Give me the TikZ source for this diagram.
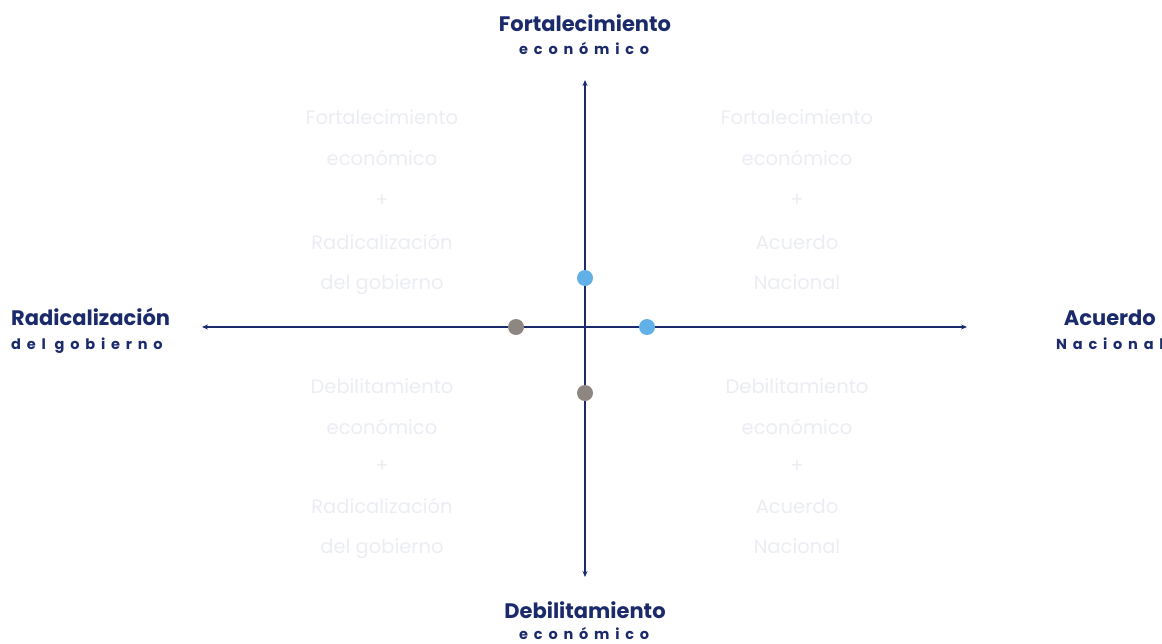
\documentclass[tikz,border=0pt]{standalone}
\usepackage{fontspec}
\setmainfont{Poppins}
\usetikzlibrary{arrows.meta}
\definecolor{navy}{HTML}{1B2A6B}
\definecolor{dotblue}{HTML}{62B0E8}
\definecolor{dotgray}{HTML}{8E8681}
\definecolor{faint}{HTML}{EBEDF3}
\newfontfamily\spaced{Poppins}[LetterSpace=40]
\begin{document}
\begin{tikzpicture}[x=1pt,y=-1pt,
  axis/.style={draw=navy,line width=1.3pt,-{Stealth[length=6pt,width=5pt]}},
  title/.style={text=navy,font=\fontsize{21}{23}\selectfont\bfseries,inner sep=0pt,anchor=base},
  sub/.style={text=navy,font=\fontsize{14.5}{16}\spaced\bfseries,inner sep=0pt,anchor=base},
  quad/.style={text=faint,font=\fontsize{19.5}{21}\selectfont,inner sep=0pt,anchor=base},
  dot/.style={circle,inner sep=0pt,minimum size=16pt}]
\useasboundingbox (0,0) rectangle (1162,643);
\coordinate (c) at (585,327);
\coordinate (top) at (585,80);
\coordinate (bot) at (585,577);
\coordinate (lft) at (202,327);
\coordinate (rgt) at (967,327);
\draw[axis] (c) -- (top);
\draw[axis] (c) -- (bot);
\draw[axis] (c) -- (lft);
\draw[axis] (c) -- (rgt);
% titles
\node[title] (tt) at (585,31) {Fortalecimiento};
\node[sub,anchor=base west] (ts) at (519,54) {económico};
\node[title] (bt) at (585,618) {Debilitamiento};
\node[sub,anchor=base west] (bs) at (519,639) {económico};
\node[title,anchor=base west] (lt) at (11,325) {Radicalización};
\node[sub,anchor=base west] (ls) at (11,349) {del gobierno};
\node[title,anchor=base east] (rt) at (1156,325) {Acuerdo};
\node[sub,anchor=base west] (rs) at (1056,349) {Nacional};
% quadrant texts
\node[quad] (q1a) at (382,124) {Fortalecimiento};
\node[quad] (q1b) at (382,165) {económico};
\node[quad] (q1c) at (382,206) {+};
\node[quad] (q1d) at (382,249) {Radicalización};
\node[quad] (q1e) at (382,289) {del gobierno};
\node[quad] (q2a) at (797,124) {Fortalecimiento};
\node[quad] (q2b) at (797,165) {económico};
\node[quad] (q2c) at (797,206) {+};
\node[quad] (q2d) at (797,249) {Acuerdo};
\node[quad] (q2e) at (797,289) {Nacional};
\node[quad] (q3a) at (382,393) {Debilitamiento};
\node[quad] (q3b) at (382,434) {económico};
\node[quad] (q3c) at (382,472) {+};
\node[quad] (q3d) at (382,513) {Radicalización};
\node[quad] (q3e) at (382,553) {del gobierno};
\node[quad] (q4a) at (797,393) {Debilitamiento};
\node[quad] (q4b) at (797,434) {económico};
\node[quad] (q4c) at (797,472) {+};
\node[quad] (q4d) at (797,513) {Acuerdo};
\node[quad] (q4e) at (797,553) {Nacional};
% dots
\node[dot,fill=dotblue] (d1) at (585,278) {};
\node[dot,fill=dotblue] (d2) at (647,327) {};
\node[dot,fill=dotgray] (d3) at (516,327) {};
\node[dot,fill=dotgray] (d4) at (585,393) {};
\end{tikzpicture}
\end{document}
